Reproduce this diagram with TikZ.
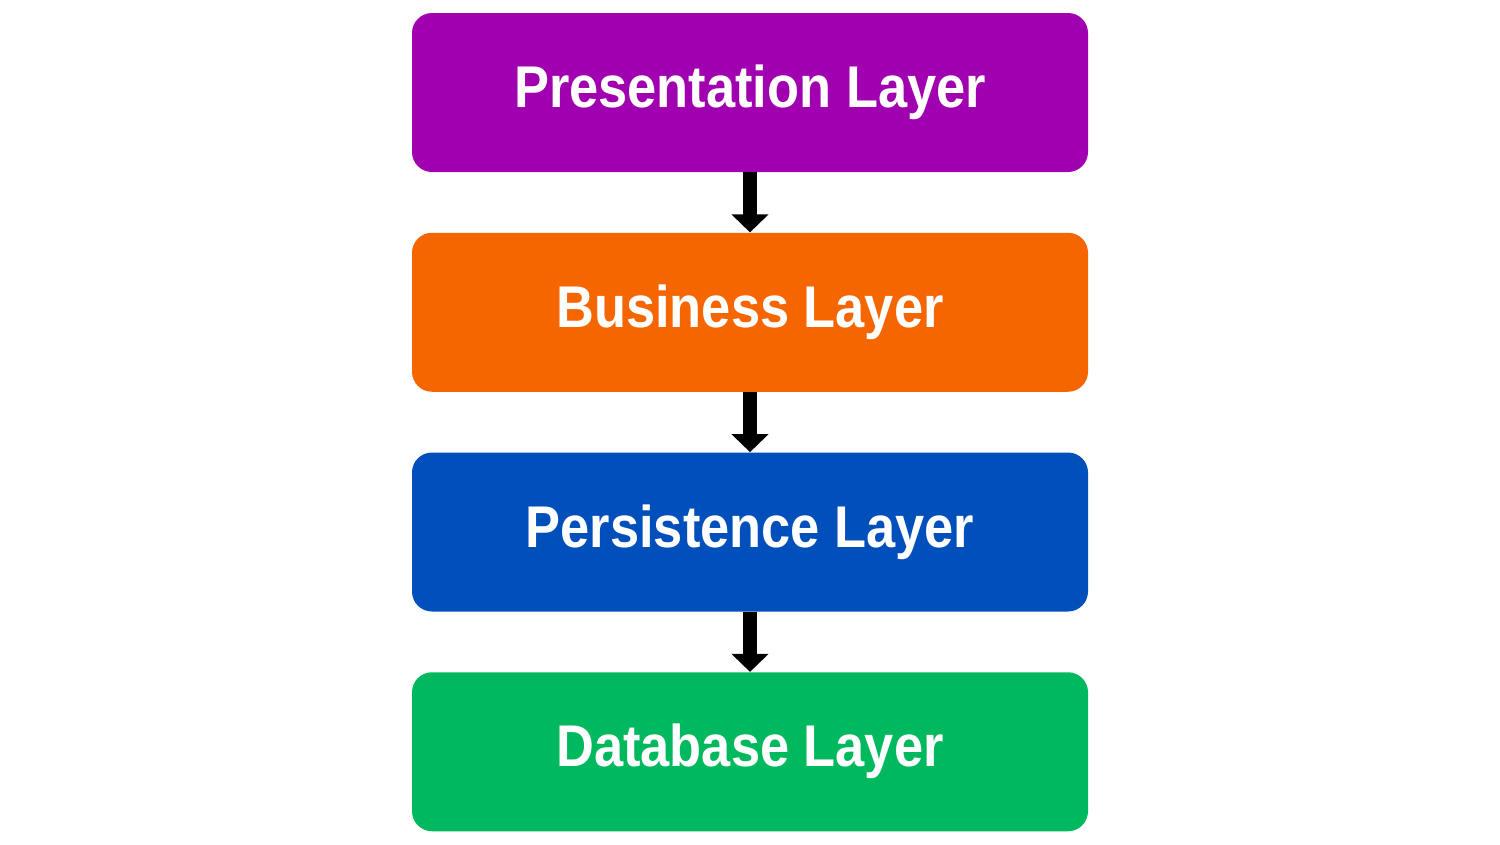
\documentclass[tikz,border=0pt]{standalone}
\usepackage{fontspec}
\setmainfont{Liberation Sans}[FakeStretch=0.89]
\usetikzlibrary{arrows.meta}
\definecolor{cpurple}{RGB}{160,0,175}
\definecolor{corange}{RGB}{245,101,0}
\definecolor{cblue}{RGB}{0,79,187}
\definecolor{cgreen}{RGB}{0,184,94}
\begin{document}
\begin{tikzpicture}
\useasboundingbox[fill=white] (0,0) rectangle (30,-16.88);
\tikzset{
  layer/.style={rounded corners=0.4cm, minimum width=13.52cm, minimum height=3.18cm,
    inner sep=0pt, text=white, font=\fontsize{33.5}{40}\selectfont\bfseries},
  flow/.style={line width=0.28cm, -{Triangle[width=0.72cm,length=0.36cm]}}
}
\node[layer, fill=cpurple] (p) at (15,-1.85) {Presentation Layer};
\node[layer, fill=corange] (b) at (15,-6.245) {Business Layer};
\node[layer, fill=cblue]   (s) at (15,-10.64) {Persistence Layer};
\node[layer, fill=cgreen]  (d) at (15,-15.035) {Database Layer};
\draw[flow] (p.south) -- (b.north);
\draw[flow] (b.south) -- (s.north);
\draw[flow] (s.south) -- (d.north);
\end{tikzpicture}
\end{document}
